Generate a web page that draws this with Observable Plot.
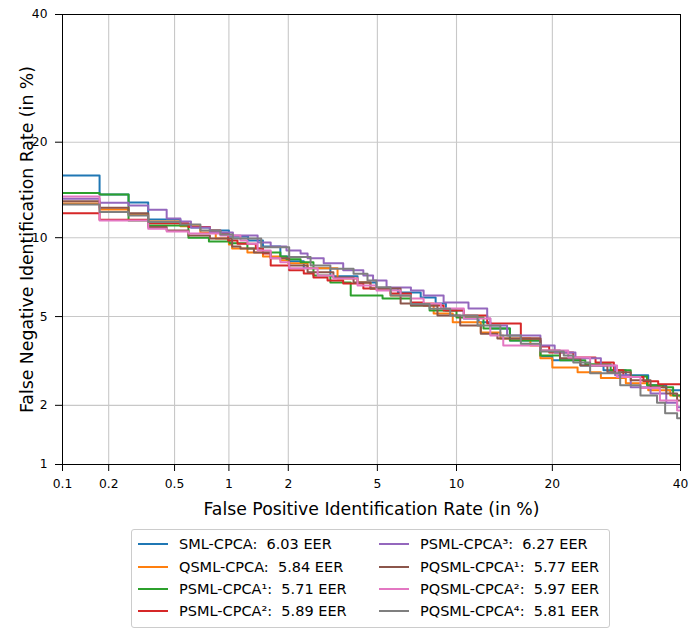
<!DOCTYPE html>
<html>
<head>
<meta charset="utf-8">
<script src="https://cdn.jsdelivr.net/npm/d3@7"></script>
<script src="https://cdn.jsdelivr.net/npm/@observablehq/plot@0.6"></script>
<style>
  html, body { margin: 0; padding: 0; background: #fff; }
  #wrap { position: relative; width: 689px; height: 632px; font-family: "DejaVu Sans", sans-serif; }
  #legend { position: absolute; left: 131px; top: 529px; width: 479px; height: 99px; box-sizing: border-box;
            border: 1px solid #cccccc; border-radius: 3px; background: #fff; }
  .li { position: absolute; height: 20px; display: flex; align-items: center; white-space: pre; font-size: 14.5px; color: #000; }
  .sw { width: 30px; height: 2px; margin-right: 11px; }
</style>
</head>
<body>
<div id="wrap"><div id="chart"></div><div id="legend"></div></div>
<script>
// ---------- data (FPIR %, FNIR %) ----------
const seriesNames = ["SML-CPCA", "QSML-CPCA", "PSML-CPCA¹", "PSML-CPCA²", "PSML-CPCA³", "PQSML-CPCA¹", "PQSML-CPCA²", "PQSML-CPCA⁴"];
const eerValues = ["6.03", "5.84", "5.71", "5.89", "6.27", "5.77", "5.97", "5.81"];
const seriesColors = ["#1f77b4", "#ff7f0e", "#2ca02c", "#d62728", "#9467bd", "#8c564b", "#e377c2", "#7f7f7f"];
const xTickValues = [0.1, 0.2, 0.5, 1, 2, 5, 10, 20, 40];
const yTickValues = [1, 2, 5, 10, 20, 40];

const smlCpca = [[0.1,16.0],[0.175,13.95],[0.266,13.15],[0.35,11.56],[0.54,11.12],[0.62,10.86],[0.79,10.6],[1.0,10.1],[1.26,9.78],[1.5,9.31],[1.83,8.57],[2.0,8.22],[2.37,7.74],[3.14,7.22],[4.13,6.84],[4.95,6.48],[6.05,6.25],[7.41,5.97],[8.42,5.65],[9.17,5.29],[10.6,4.91],[11.9,4.73],[13.0,4.46],[15.0,3.96],[18.5,3.38],[20,3.24],[23.8,3.07],[27.2,2.92],[30.7,2.77],[34.4,2.49],[37.5,2.36],[40,2.36]];
const qsmlCpca = [[0.1,13.05],[0.175,12.48],[0.266,12.0],[0.35,11.38],[0.54,10.95],[0.70,10.43],[0.85,9.94],[1.0,9.47],[1.04,9.16],[1.25,8.86],[1.5,8.57],[1.83,8.29],[2.0,8.08],[2.47,7.74],[3.38,7.09],[4.13,6.84],[4.68,6.48],[5.66,6.08],[6.8,5.65],[8.28,5.15],[9.7,4.73],[12.1,4.29],[14.0,4.04],[17.3,3.77],[18.5,3.31],[20,3.01],[23.4,2.86],[26.8,2.69],[30.7,2.55],[34.4,2.36],[38.2,2.23],[40,2.18]];
const psmlCpca1 = [[0.1,14.1],[0.175,13.95],[0.266,11.47],[0.35,11.03],[0.60,10.0],[0.78,9.70],[1.01,9.55],[1.25,9.16],[1.5,8.86],[1.83,8.57],[1.96,8.36],[2.29,8.15],[2.63,7.28],[3.14,6.84],[3.86,6.08],[5.25,5.92],[6.8,5.55],[8.0,5.29],[10,4.96],[12.35,4.46],[15.0,3.96],[18.5,3.41],[21.0,3.24],[24.5,3.11],[28.3,2.92],[31.5,2.74],[34.2,2.49],[36.9,2.44],[38.7,2.23],[40,2.23]];
const psmlCpca2 = [[0.1,12.13],[0.175,11.53],[0.35,11.21],[0.60,10.89],[0.79,10.6],[0.90,10.35],[0.99,9.78],[1.11,9.52],[1.38,9.16],[1.5,8.79],[1.64,7.94],[2.02,7.61],[2.37,7.41],[2.63,7.15],[3.05,6.96],[3.58,6.78],[4.37,6.48],[5.66,6.19],[6.8,5.70],[7.6,5.55],[9.0,5.29],[10.6,5.05],[12.7,4.68],[16.2,4.04],[18.5,3.73],[19.6,3.51],[22.8,3.34],[26.0,3.17],[28.8,2.92],[30.3,2.72],[33.6,2.60],[36.1,2.52],[40,2.52]];
const psmlCpca3 = [[0.1,13.52],[0.175,13.12],[0.266,12.86],[0.35,12.45],[0.45,11.65],[0.54,11.38],[0.62,10.86],[0.79,10.43],[1.05,10.18],[1.41,9.62],[1.64,9.31],[1.96,9.01],[2.29,8.79],[2.47,8.43],[2.93,8.08],[3.58,7.61],[4.37,7.28],[4.8,6.96],[5.45,6.54],[6.8,6.36],[7.6,6.08],[9.0,5.70],[11.0,5.40],[12.7,4.91],[13.0,4.59],[14.7,4.16],[18.5,3.77],[20.3,3.51],[23.1,3.31],[26.8,3.07],[29.0,2.77],[31.5,2.44],[34.8,2.28],[37.5,2.06],[39.4,1.96],[40,1.96]];
const pqsmlCpca1 = [[0.1,13.28],[0.175,12.64],[0.266,12.13],[0.35,10.89],[0.45,10.6],[0.60,10.18],[0.79,9.94],[1.04,9.31],[1.15,9.16],[1.35,8.86],[1.64,8.43],[2.02,7.94],[2.47,7.48],[3.24,7.15],[3.97,6.84],[4.68,6.48],[6.2,5.65],[6.8,5.55],[8.55,5.05],[10.3,4.59],[12.1,4.24],[13.7,4.04],[18.5,3.58],[21.0,3.31],[23.8,3.07],[27.8,2.86],[31.5,2.63],[34.8,2.44],[37.5,2.28],[39.4,2.11],[40,2.11]];
const pqsmlCpca2 = [[0.1,13.75],[0.175,11.47],[0.35,10.75],[0.45,10.51],[0.60,10.35],[0.90,10.18],[1.15,9.78],[1.25,9.52],[1.41,9.01],[1.64,8.43],[1.83,8.15],[2.02,7.74],[2.75,7.28],[3.24,7.09],[4.13,6.66],[4.96,6.36],[6.2,6.08],[6.8,5.92],[7.6,5.65],[8.8,5.40],[10.6,4.91],[13.0,4.16],[14.3,3.77],[18.5,3.58],[22.1,3.34],[25.2,3.07],[29.3,2.72],[33.1,2.42],[36.4,2.11],[39.4,1.89],[40,1.89]];
const pqsmlCpca4 = [[0.1,12.96],[0.175,12.23],[0.266,11.92],[0.35,11.32],[0.54,11.12],[0.70,10.6],[0.90,10.27],[1.05,9.94],[1.47,9.24],[2.02,8.52],[2.55,7.94],[3.14,7.72],[3.97,7.39],[4.55,6.96],[4.96,6.56],[5.66,6.08],[6.8,5.63],[8.0,5.38],[9.5,5.05],[11.8,4.59],[14.0,4.16],[16.2,3.84],[18.5,3.55],[21.5,3.41],[22.8,3.17],[25.2,2.83],[29.8,2.49],[33.1,2.23],[35.9,2.06],[37.3,1.83],[39.4,1.73],[40,1.73]];

const seriesData = [smlCpca, qsmlCpca, psmlCpca1, psmlCpca2, psmlCpca3, pqsmlCpca1, pqsmlCpca2, pqsmlCpca4];

// ---------- normal-deviate (probit) transform used by DET plots ----------
function probit(p) {
  const a=[-3.969683028665376e+01,2.209460984245205e+02,-2.759285104469687e+02,1.383577518672690e+02,-3.066479806614716e+01,2.506628277459239e+00];
  const b=[-5.447609879822406e+01,1.615858368580409e+02,-1.556989798598866e+02,6.680131188771972e+01,-1.328068155288572e+01];
  const c=[-7.784894002430293e-03,-3.223964580411365e-01,-2.400758277161838e+00,-2.549732539343734e+00,4.374664141464968e+00,2.938163982698783e+00];
  const d=[7.784695709041462e-03,3.224671290700398e-01,2.445134137142996e+00,3.754408661907416e+00];
  const pl = 0.02425, ph = 1 - pl;
  if (p < pl) { const q = Math.sqrt(-2*Math.log(p)); return (((((c[0]*q+c[1])*q+c[2])*q+c[3])*q+c[4])*q+c[5])/((((d[0]*q+d[1])*q+d[2])*q+d[3])*q+1); }
  if (p <= ph) { const q = p - 0.5, r = q*q; return (((((a[0]*r+a[1])*r+a[2])*r+a[3])*r+a[4])*r+a[5])*q/(((((b[0]*r+b[1])*r+b[2])*r+b[3])*r+b[4])*r+1); }
  const q = Math.sqrt(-2*Math.log(1-p)); return -(((((c[0]*q+c[1])*q+c[2])*q+c[3])*q+c[4])*q+c[5])/((((d[0]*q+d[1])*q+d[2])*q+d[3])*q+1);
}
const pr = v => probit(v / 100);

const rows = seriesData.flatMap((pts, k) => pts.map(([fp, fn]) => ({series: seriesNames[k], x: pr(fp), y: pr(fn)})));

const chart = Plot.plot({
  width: 689, height: 525,
  marginLeft: 62, marginRight: 9, marginTop: 14, marginBottom: 61,
  style: {fontFamily: "DejaVu Sans, sans-serif", fontSize: "12.3px", color: "#000", background: "#fff", overflow: "visible"},
  x: {domain: [pr(0.1), pr(40)], ticks: xTickValues.map(pr), tickFormat: () => "", tickSize: 7, label: null},
  y: {domain: [pr(1), pr(40)], ticks: yTickValues.map(pr), tickFormat: () => "", tickSize: 7, label: null},
  color: {domain: seriesNames, range: seriesColors},
  marks: [
    Plot.ruleX(xTickValues.slice(1, -1), {x: pr, stroke: "#c8c8c8", strokeWidth: 1.1}),
    Plot.ruleY(yTickValues.slice(1, -1), {y: pr, stroke: "#c8c8c8", strokeWidth: 1.1}),
    Plot.line(rows, {x: "x", y: "y", z: "series", stroke: "series", curve: "step-after", strokeWidth: 2, clip: true}),
    Plot.frame({stroke: "#000", strokeWidth: 1}),
    // tick labels
    Plot.text(xTickValues, {x: pr, frameAnchor: "bottom", dy: 15, lineAnchor: "top", text: d => String(d), fontSize: 12.3, fill: "#000"}),
    Plot.text(yTickValues, {y: pr, frameAnchor: "left", dx: -15, textAnchor: "end", text: d => String(d), fontSize: 12.3, fill: "#000"}),
    // axis titles
    Plot.text(["False Positive Identification Rate (in %)"], {frameAnchor: "bottom", dy: 50, fontSize: 17.3, fill: "#000", textAnchor: "middle"}),
    Plot.text(["False Negative Identification Rate (in %)"], {frameAnchor: "left", dx: -35, rotate: -90, fontSize: 17.3, fill: "#000", textAnchor: "middle"})
  ]
});
document.getElementById("chart").appendChild(chart);

// ---------- legend ----------
const legend = document.getElementById("legend");
const rowTops = [4, 26.5, 49, 71];
seriesNames.forEach((name, k) => {
  const col = k < 4 ? 0 : 1;
  const row = k % 4;
  const item = document.createElement("div");
  item.className = "li";
  item.style.left = (col === 0 ? 6 : 247) + "px";
  item.style.top = rowTops[row] + "px";
  const sw = document.createElement("span");
  sw.className = "sw";
  sw.style.background = seriesColors[k];
  const tx = document.createElement("span");
  tx.textContent = name + ":  " + eerValues[k] + " EER";
  item.appendChild(sw);
  item.appendChild(tx);
  legend.appendChild(item);
});
</script>
</body>
</html>
